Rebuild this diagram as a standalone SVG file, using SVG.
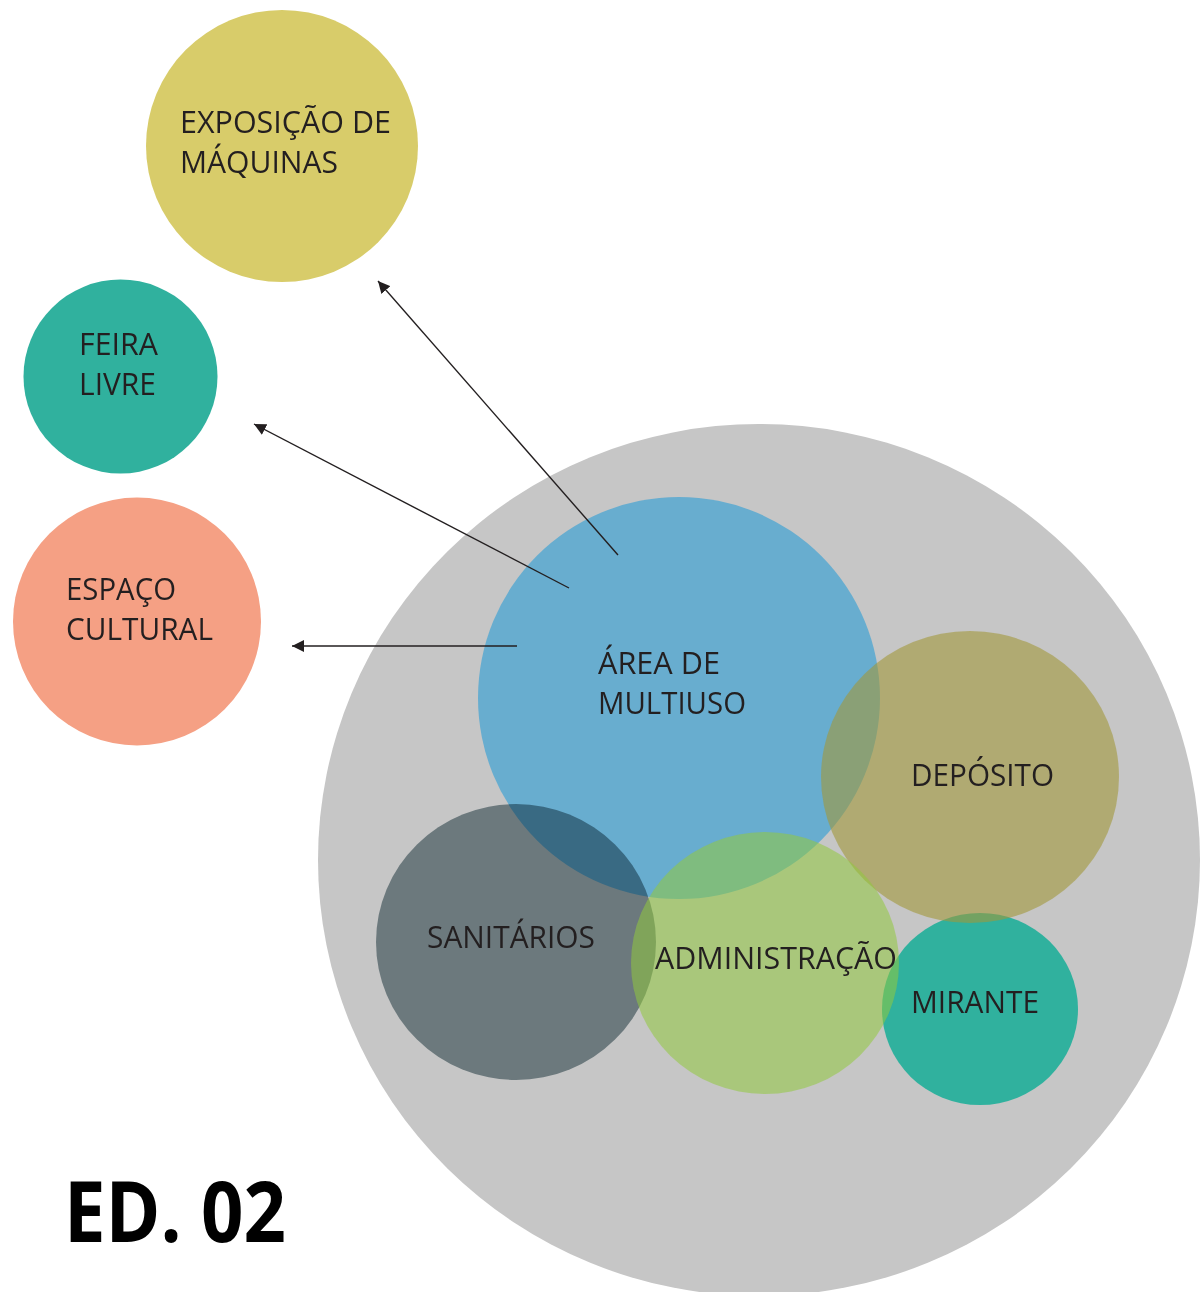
<svg xmlns="http://www.w3.org/2000/svg" width="1201" height="1292" viewBox="0 0 1201 1292">
<defs>
<style>
.lbl{font-family:"Open Sans","Noto Sans","Liberation Sans",sans-serif;font-size:31px;fill:#231f20;}
.title{font-family:"Open Sans","Noto Sans","Liberation Sans",sans-serif;font-size:84px;font-weight:bold;fill:#000;}
.conn{stroke:#231f20;stroke-width:1.4;fill:none;}
</style>
<marker id="arr" viewBox="0 0 12 12" markerWidth="12" markerHeight="12" refX="12" refY="6" orient="auto" markerUnits="userSpaceOnUse">
<path d="M0,0 L12,6 L0,12 z" fill="#231f20"/>
</marker>
</defs>
<rect width="1201" height="1292" fill="#ffffff"/>

<g id="ed02-site">
<ellipse cx="759" cy="860" rx="441" ry="436" fill="#c6c6c6"/>
</g>

<g id="exposicao">
<circle cx="282" cy="146" r="136" fill="#d8cc6a"/>
<text class="lbl" x="180" y="133" textLength="211" lengthAdjust="spacingAndGlyphs">EXPOSIÇÃO DE</text>
<text class="lbl" x="180" y="173" textLength="158" lengthAdjust="spacingAndGlyphs">MÁQUINAS</text>
</g>

<g id="feira">
<circle cx="120.5" cy="376.5" r="97" fill="#30b19e"/>
<text class="lbl" x="79" y="355" textLength="79" lengthAdjust="spacingAndGlyphs">FEIRA</text>
<text class="lbl" x="79" y="395" textLength="77" lengthAdjust="spacingAndGlyphs">LIVRE</text>
</g>

<g id="espaco">
<circle cx="137" cy="621.5" r="124" fill="#f5a084"/>
<text class="lbl" x="66" y="600" textLength="110" lengthAdjust="spacingAndGlyphs">ESPAÇO</text>
<text class="lbl" x="66" y="640" textLength="147" lengthAdjust="spacingAndGlyphs">CULTURAL</text>
</g>

<g id="multiuso">
<circle cx="679" cy="698" r="201" fill="#68adcf"/>
<text class="lbl" x="598" y="674" textLength="122" lengthAdjust="spacingAndGlyphs">ÁREA DE</text>
<text class="lbl" x="598" y="714" textLength="148" lengthAdjust="spacingAndGlyphs">MULTIUSO</text>
</g>

<g id="sanitarios">
<ellipse cx="516" cy="942" rx="140" ry="138" fill="#8b9ca1" style="mix-blend-mode:multiply"/>
<text class="lbl" x="427" y="948" textLength="168" lengthAdjust="spacingAndGlyphs">SANITÁRIOS</text>
</g>

<g id="mirante">
<ellipse cx="980" cy="1009" rx="98" ry="96" fill="#30b19e"/>
<text class="lbl" x="911" y="1013" textLength="128" lengthAdjust="spacingAndGlyphs">MIRANTE</text>
</g>

<g id="deposito">
<ellipse cx="970" cy="777" rx="149" ry="146" fill="#a19738" fill-opacity="0.59"/>
<text class="lbl" x="911" y="786" textLength="143" lengthAdjust="spacingAndGlyphs">DEPÓSITO</text>
</g>

<g id="administracao">
<ellipse cx="765" cy="963" rx="134" ry="131" fill="#92c83e" fill-opacity="0.55"/>
<text class="lbl" x="655" y="969" textLength="242" lengthAdjust="spacingAndGlyphs">ADMINISTRAÇÃO</text>
</g>

<g id="connectors">
<line class="conn" x1="618" y1="555" x2="378" y2="281" marker-end="url(#arr)"/>
<line class="conn" x1="569" y1="588" x2="254" y2="424" marker-end="url(#arr)"/>
<line class="conn" x1="517" y1="646" x2="292" y2="646" marker-end="url(#arr)"/>
</g>

<g id="title">
<text class="title" x="64" y="1242" textLength="222" lengthAdjust="spacingAndGlyphs">ED. 02</text>
</g>
</svg>
